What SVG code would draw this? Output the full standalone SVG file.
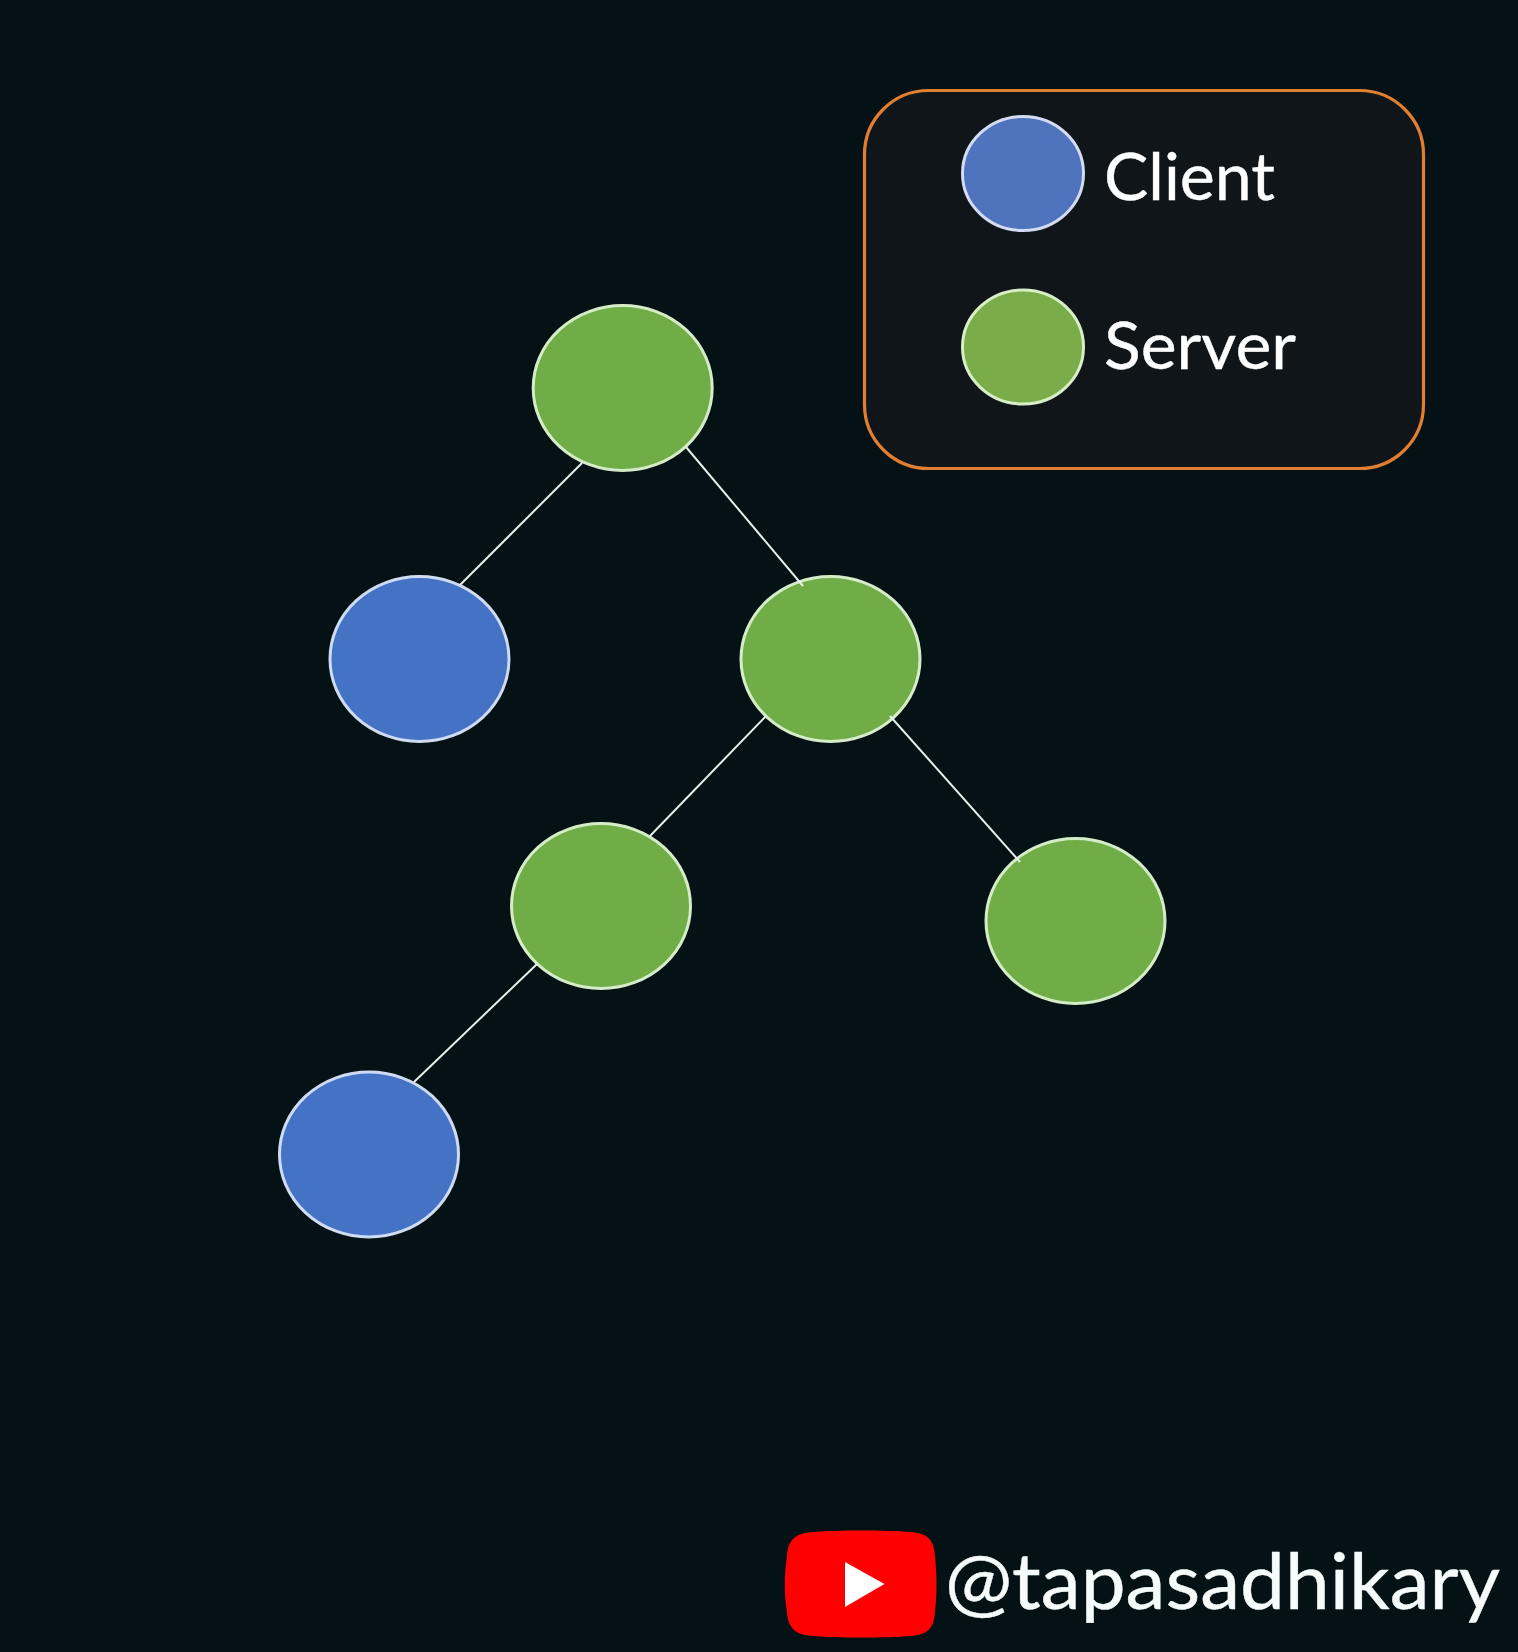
<svg xmlns="http://www.w3.org/2000/svg" width="1518" height="1652" viewBox="0 0 1518 1652">
<style>
.edge{stroke:#e6efe8;stroke-width:2;fill:none}
.srv{fill:#70ad47;stroke:#d5ecc8;stroke-width:3}
.cli{fill:#4472c4;stroke:#cfdbf2;stroke-width:3}
.lsrv{fill:#7aad4a;stroke:#d9eec6;stroke-width:3}
.lcli{fill:#4f74bd;stroke:#d3dcf2;stroke-width:3}
.lbl{font-family:"Lato","Open Sans",sans-serif;fill:#fdfeff;font-size:66px;stroke:#fdfeff;stroke-width:0.4px}
.wm{font-family:"Lato","Open Sans",sans-serif;fill:#f6fbfc;font-size:78px;stroke:#f6fbfc;stroke-width:0.4px}
</style>
<rect id="background" width="1518" height="1652" fill="#041215"/>
<g id="node-root"><ellipse class="srv" cx="622.7" cy="388" rx="89.500" ry="82.500"/></g>
<g id="node-client-1"><ellipse class="cli" cx="419.500" cy="659" rx="89.500" ry="82.500"/></g>
<g id="node-server-2"><ellipse class="srv" cx="830.500" cy="659" rx="89.500" ry="82.500"/></g>
<g id="node-server-3"><ellipse class="srv" cx="601" cy="906" rx="89.500" ry="82.500"/></g>
<g id="node-server-4"><ellipse class="srv" cx="1075.500" cy="921" rx="89.500" ry="82.500"/></g>
<g id="node-client-2"><ellipse class="cli" cx="369" cy="1154.500" rx="89.500" ry="82.500"/></g>
<g id="connectors">
<line class="edge" x1="582" y1="463" x2="460" y2="585"/>
<line class="edge" x1="686" y1="447" x2="803" y2="586"/>
<line class="edge" x1="766" y1="716" x2="650" y2="836"/>
<line class="edge" x1="890" y1="716" x2="1020" y2="862"/>
<line class="edge" x1="537" y1="964" x2="414" y2="1082"/>
</g>
<g id="legend">
<rect x="864.500" y="90.500" width="559" height="378" rx="64" ry="64" fill="#0f1519" stroke="#e07f32" stroke-width="3.200"/>
<ellipse class="lcli" cx="1023" cy="173.500" rx="60.500" ry="57"/>
<text class="lbl" x="1104" y="200" textLength="171" lengthAdjust="spacingAndGlyphs">Client</text>
<ellipse class="lsrv" cx="1023" cy="347" rx="60.500" ry="57"/>
<text class="lbl" x="1104" y="369" textLength="192" lengthAdjust="spacingAndGlyphs">Server</text>
</g>
<g id="watermark">
<path d="M813 1532C838 1530 885 1530 910 1532C928 1533 934 1540 935 1556C937 1575 937 1595 935 1612C934 1628 928 1635 910 1636C885 1638 838 1638 813 1636C795 1635 788 1628 787 1612C784 1595 784 1575 787 1556C788 1540 795 1533 813 1532Z" fill="#fe0000"/>
<polygon points="845,1562 884.500,1584 845,1607" fill="#ffffff"/>
<text class="wm" x="945" y="1609" textLength="555" lengthAdjust="spacingAndGlyphs">@tapasadhikary</text>
</g>
</svg>
